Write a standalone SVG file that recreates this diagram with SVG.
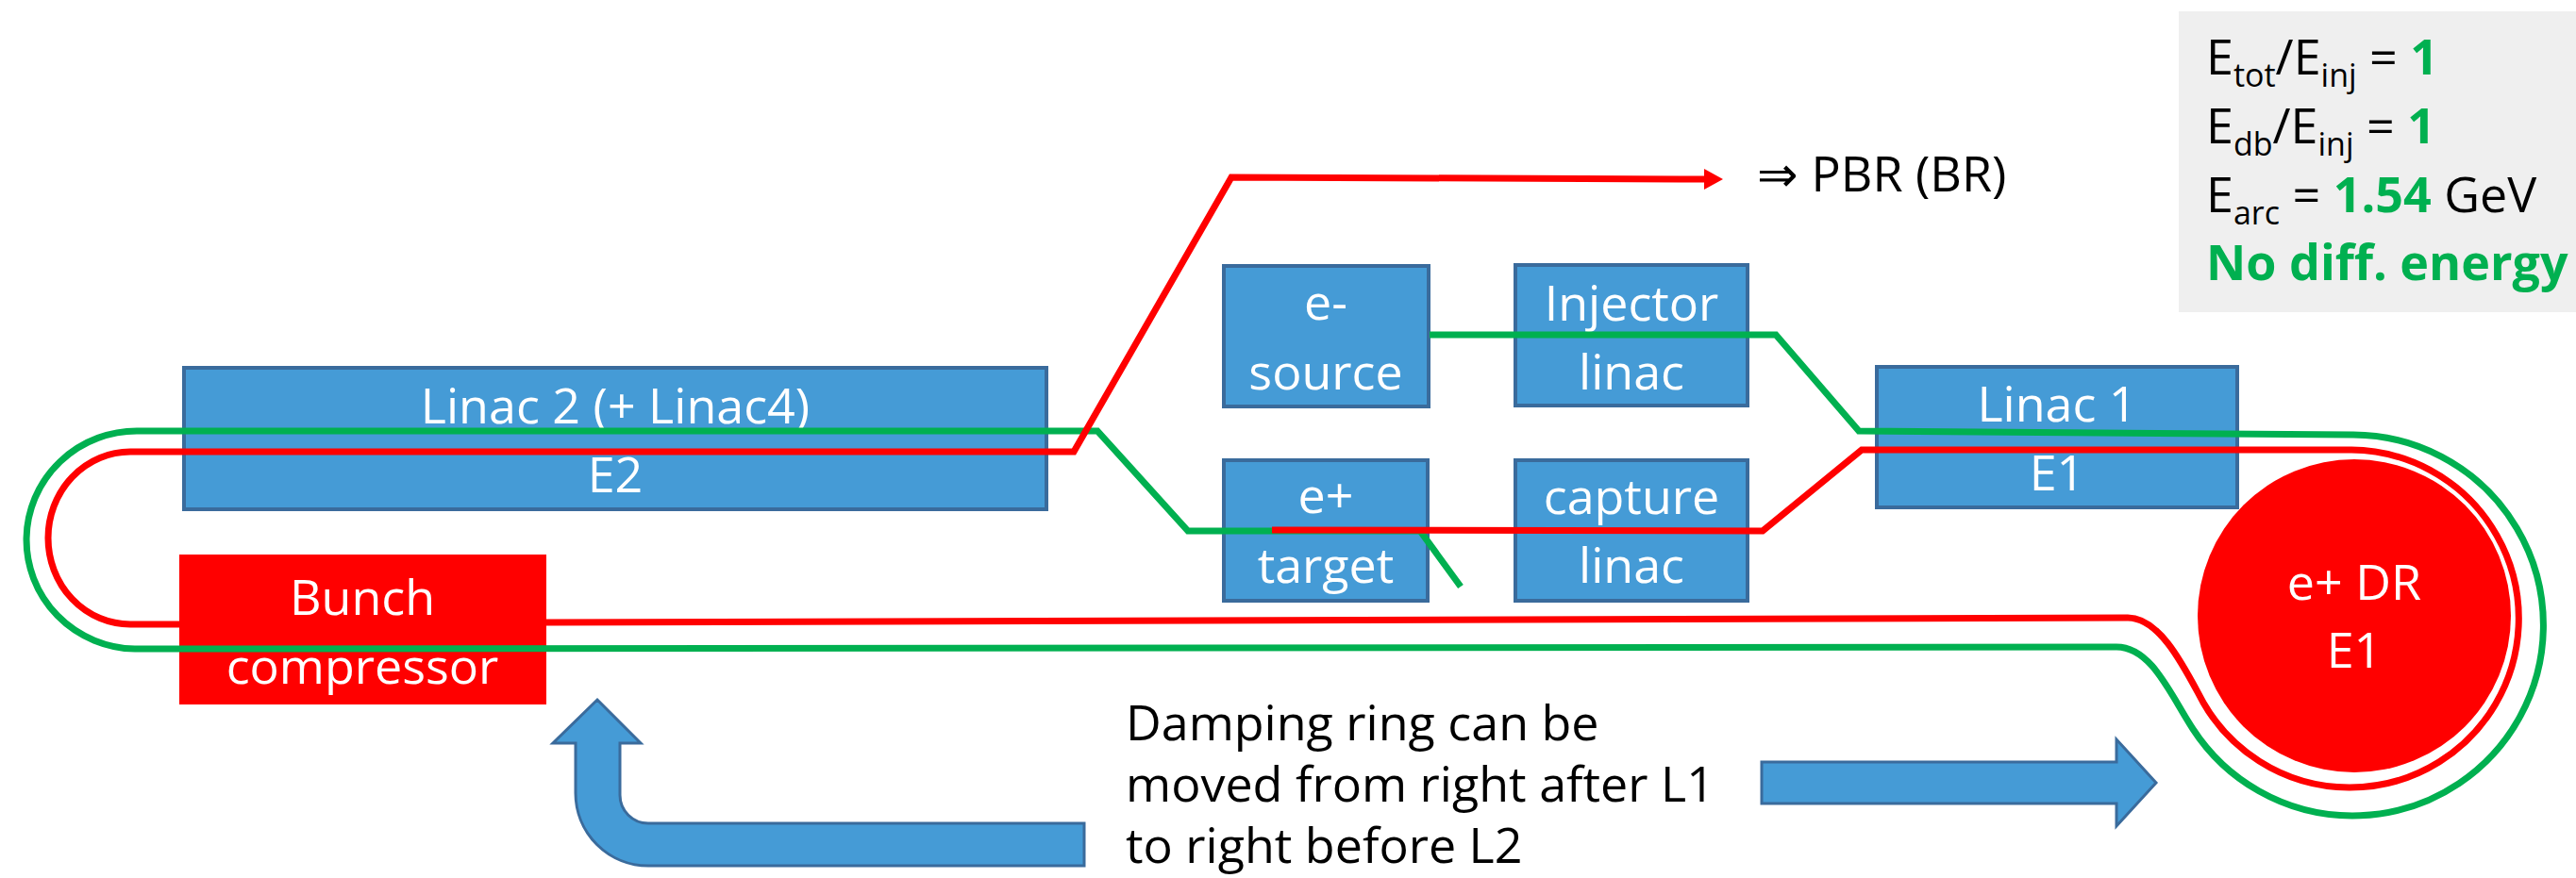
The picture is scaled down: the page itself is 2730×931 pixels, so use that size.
<svg xmlns="http://www.w3.org/2000/svg" width="2730" height="931" viewBox="0 0 2730 931">
<style>
.box{fill:#459bd6;stroke:#3a6b9c;stroke-width:4}
.lbl{font-family:"Open Sans","Liberation Sans",sans-serif;font-size:52px;fill:#fff;text-anchor:middle}
.txt{font-family:"Open Sans","Liberation Sans",sans-serif;font-size:52px;fill:#000}
.sub{font-size:34px}
.g{fill:#00b050;font-weight:bold}
.beam{fill:none;stroke-width:7;stroke-linejoin:miter}
.green{stroke:#00b050}
.red{stroke:#ff0000}
.bigarrow{fill:#459bd6;stroke:#3a6b9c;stroke-width:3}
</style>
<defs>
<marker id="redhead" markerUnits="userSpaceOnUse" markerWidth="24" markerHeight="24" refX="2" refY="11" orient="auto">
<path d="M0,0 L20,11 L0,22 Z" fill="#ff0000"/>
</marker>
</defs>
<rect width="2730" height="931" fill="#fff"/>

<g id="info-box">
<rect x="2309" y="12" width="421" height="319" fill="#efefef"/>
<text class="txt" x="2338" y="79">E<tspan class="sub" dy="13">tot</tspan><tspan dy="-13">/E</tspan><tspan class="sub" dy="13">inj</tspan><tspan dy="-13"> = </tspan><tspan class="g">1</tspan></text>
<text class="txt" x="2338" y="152">E<tspan class="sub" dy="13">db</tspan><tspan dy="-13">/E</tspan><tspan class="sub" dy="13">inj</tspan><tspan dy="-13"> = </tspan><tspan class="g">1</tspan></text>
<text class="txt" x="2338" y="225">E<tspan class="sub" dy="13">arc</tspan><tspan dy="-13"> = </tspan><tspan class="g">1.54</tspan> GeV</text>
<text class="txt g" x="2338" y="297">No diff. energy</text>
</g>

<g id="linac2">
<rect class="box" x="195" y="390" width="914" height="150"/>
<text class="lbl" x="652" y="449">Linac 2 (+ Linac4)</text>
<text class="lbl" x="652" y="522">E2</text>
</g>

<g id="e-source">
<rect class="box" x="1297" y="282" width="217" height="149"/>
<text class="lbl" x="1405" y="339">e-</text>
<text class="lbl" x="1405" y="413">source</text>
</g>

<g id="injector-linac">
<rect class="box" x="1606" y="281" width="246" height="149"/>
<text class="lbl" x="1729" y="340">Injector</text>
<text class="lbl" x="1729" y="413">linac</text>
</g>

<g id="e-plus-target">
<rect class="box" x="1297" y="488" width="216" height="149"/>
<text class="lbl" x="1405" y="544">e+</text>
<text class="lbl" x="1405" y="618">target</text>
</g>

<g id="capture-linac">
<rect class="box" x="1606" y="488" width="246" height="149"/>
<text class="lbl" x="1729" y="545">capture</text>
<text class="lbl" x="1729" y="618">linac</text>
</g>

<g id="linac1">
<rect class="box" x="1989" y="389" width="382" height="149"/>
<text class="lbl" x="2180" y="447">Linac 1</text>
<text class="lbl" x="2180" y="520">E1</text>
</g>

<g id="bunch-compressor">
<rect x="190" y="588" width="389" height="159" fill="#ff0000"/>
<text class="lbl" x="384" y="652">Bunch</text>
<text class="lbl" x="384" y="725">compressor</text>
</g>

<g id="damping-ring">
<circle cx="2495" cy="653" r="166" fill="#ff0000"/>
<text class="lbl" x="2495" y="636">e+ DR</text>
<text class="lbl" x="2495" y="708">E1</text>
</g>

<g id="connectors">
<path class="beam green" d="M1515 355 L1882 355 L1970 457 L2494 461 A202 202 0 1 1 2324 773 C2300 736 2280 686 2243 686 L143 688 A117 115.5 0 0 1 147 457 L1163 457 L1259 563 L1505 563 L1548 622"/>
<path class="beam red" marker-end="url(#redhead)" d="M1348 562 L1868 563 L1973 477 L2492 477 A179 179 0 1 1 2335 745 C2316 710 2290 655 2255 655 L579 660 M190 662 L138 662 A87 91.5 0 0 1 138 479 L1138 479 L1305 188 L1808 190"/>
</g>

<g id="pbr-label">
<text class="txt" x="1862" y="203">⇒ PBR (BR)</text>
</g>

<g id="move-arrow-left">
<path class="bigarrow" d="M633 742 L679 788 L657 788 L657 843 A30 30 0 0 0 687 873 L1149 873 L1149 918 L687 918 A77 77 0 0 1 610 841 L610 788 L586 788 Z"/>
</g>

<g id="move-note">
<text class="txt" x="1193" y="785">Damping ring can be</text>
<text class="txt" x="1193" y="850">moved from right after L1</text>
<text class="txt" x="1193" y="915">to right before L2</text>
</g>

<g id="move-arrow-right">
<path class="bigarrow" d="M1867 808 L2243 808 L2243 784 L2285 830 L2243 876 L2243 852 L1867 852 Z"/>
</g>
</svg>
